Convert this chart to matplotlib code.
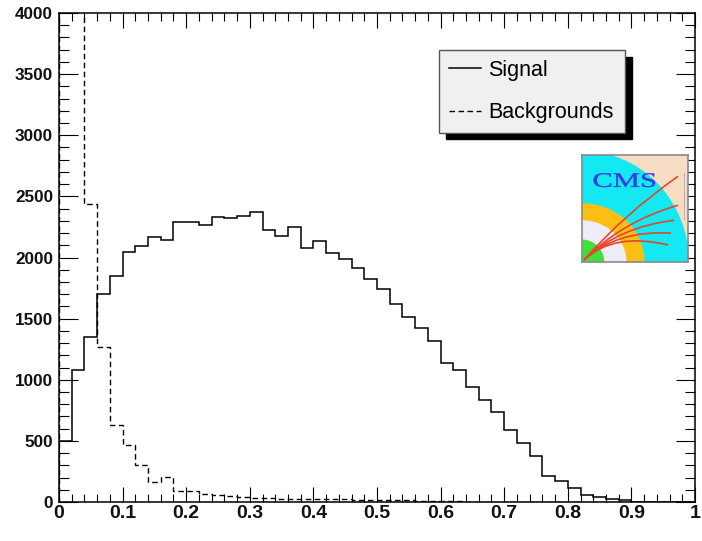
import numpy as np
import matplotlib
matplotlib.use("Agg")
import matplotlib.pyplot as plt
from matplotlib.patches import Ellipse, Circle, PathPatch
from matplotlib.path import Path
from matplotlib.textpath import TextPath
from matplotlib.font_manager import FontProperties
from matplotlib.ticker import MultipleLocator
import matplotlib.transforms as mtransforms

# ---- data: 50 bins of width 0.02 on [0, 1] ----
bin_edges = np.round(np.arange(0, 1.0001, 0.02), 2)

signal_counts = [500, 1079, 1352, 1699, 1850, 2041, 2095, 2167, 2145, 2289,
                 2289, 2268, 2333, 2322, 2341, 2371, 2227, 2177, 2246, 2074,
                 2131, 2036, 1984, 1913, 1825, 1746, 1623, 1511, 1424, 1317,
                 1134, 1082, 943, 831, 733, 585, 479, 375, 216, 172,
                 115, 60, 44, 22, 14, 0, 0, 0, 0, 0]

background_counts = [9000, 6500, 2440, 1265, 628, 470, 306, 161, 205, 88,
                     93, 68, 57, 49, 44, 36, 30, 27, 27, 25,
                     24, 22, 22, 20, 18, 16, 15, 13, 12, 10,
                     9, 8, 0, 0, 0, 0, 0, 0, 0, 0,
                     0, 0, 0, 0, 0, 0, 0, 0, 0, 0]

series_labels = ["Signal", "Backgrounds"]
x_ticks = [0, 0.1, 0.2, 0.3, 0.4, 0.5, 0.6, 0.7, 0.8, 0.9, 1]
x_tick_labels = ["0", "0.1", "0.2", "0.3", "0.4", "0.5", "0.6", "0.7", "0.8", "0.9", "1"]
y_ticks = [0, 500, 1000, 1500, 2000, 2500, 3000, 3500, 4000]

W, H = 702, 541
fig = plt.figure(figsize=(W / 100, H / 100), dpi=100)
ax = fig.add_axes([59 / W, (H - 502) / H, 636 / W, 489 / H])

ax.stairs(signal_counts, bin_edges, color="black", lw=1.1, label=series_labels[0])
ax.stairs(background_counts, bin_edges, color="black", lw=1.0,
          linestyle=(0, (4, 2.5)), label=series_labels[1])

ax.set_xlim(0, 1)
ax.set_ylim(0, 4000)

ax.xaxis.set_minor_locator(MultipleLocator(0.02))
ax.yaxis.set_minor_locator(MultipleLocator(100))
ax.set_xticks(x_ticks)
ax.set_xticklabels(x_tick_labels)
ax.set_yticks(y_ticks)
ax.set_yticklabels([str(v) for v in y_ticks])

ax.tick_params(axis="x", which="major", direction="in", length=10.8, width=0.8,
               top=True, bottom=True, pad=2.5)
ax.tick_params(axis="x", which="minor", direction="in", length=5.8, width=0.8,
               top=True, bottom=True)
ax.tick_params(axis="y", which="major", direction="in", length=13.7, width=0.8,
               left=True, right=True, pad=4.3)
ax.tick_params(axis="y", which="minor", direction="in", length=7.2, width=0.8,
               left=True, right=True)
for lab in ax.get_xticklabels():
    lab.set_fontfamily("Liberation Sans")
    lab.set_fontweight("bold")
    lab.set_fontsize(14)
    lab.set_color("#111111")
for lab in ax.get_yticklabels():
    lab.set_fontfamily("Liberation Sans")
    lab.set_fontweight("bold")
    lab.set_fontsize(12.3)
    lab.set_color("#111111")
for sp in ax.spines.values():
    sp.set_linewidth(1.1)

# legend with a solid black drop shadow
leg = ax.legend(loc="lower left",
                bbox_to_anchor=(0.5975, 0.755, 0.2925, 0.171),
                mode="expand", borderaxespad=0,
                prop=FontProperties(family="Liberation Sans", size=15.5),
                handlelength=1.5, handletextpad=0.35, borderpad=0.45,
                labelspacing=0.98, fancybox=False, framealpha=1,
                facecolor="#f0f0f0", edgecolor="#555555",
                shadow={"ox": 5, "oy": -4.5, "facecolor": "black",
                        "edgecolor": "black", "alpha": 1})
leg.get_frame().set_linewidth(1.0)

# ---- CMS logo ----
lax = fig.add_axes([582 / W, (H - 262) / H, 106 / W, 107 / H])
lax.set_xlim(0, 1)
lax.set_ylim(0, 1)
lax.set_xticks([])
lax.set_yticks([])
for sp in lax.spines.values():
    sp.set_color("#8a8a8a")
    sp.set_linewidth(1.2)
lax.set_facecolor("#f7dcc4")
lax.add_patch(Ellipse((0, 0), 2 * 1.009, 2 * 1.038, color="#14e8f2", lw=0))
lax.add_patch(Ellipse((0, 0), 2 * 0.59, 2 * 0.55, color="#fbbe14", lw=0))
lax.add_patch(Ellipse((0, 0), 2 * 0.42, 2 * 0.39, color="#efecf8", lw=0))
lax.add_patch(Circle((0, 0), 0.21, color="#3ee03a", lw=0))

track_ends = [(0.905, 0.80), (0.905, 0.53), (0.87, 0.39), (0.84, 0.27), (0.81, 0.16)]
track_ctrl = [(0.40, 0.45), (0.38, 0.38), (0.35, 0.33), (0.33, 0.30), (0.30, 0.28)]
for end, ctrl in zip(track_ends, track_ctrl):
    p = Path([(0.02, 0.02), ctrl, end], [Path.MOVETO, Path.CURVE3, Path.CURVE3])
    lax.add_patch(PathPatch(p, fc="none", ec="#e4462a", lw=1.2))

tp = TextPath((0, 0), "CMS", size=1, prop=FontProperties(family="Liberation Serif"))
bb = tp.get_extents()
tr = (mtransforms.Affine2D().translate(-bb.x0, -bb.y0)
      .scale(0.58 / bb.width, 0.13 / bb.height).translate(0.11, 0.70))
lax.add_patch(PathPatch(tr.transform_path(tp), fc="#3a3ae0", ec="#3a3ae0", lw=0.3))
lax.plot([0.96, 0.96], [0.40, 0.83], color="#6a6ad8", lw=0.6, ls=(0, (1, 1)))

fig.savefig("out.png", dpi=100)
